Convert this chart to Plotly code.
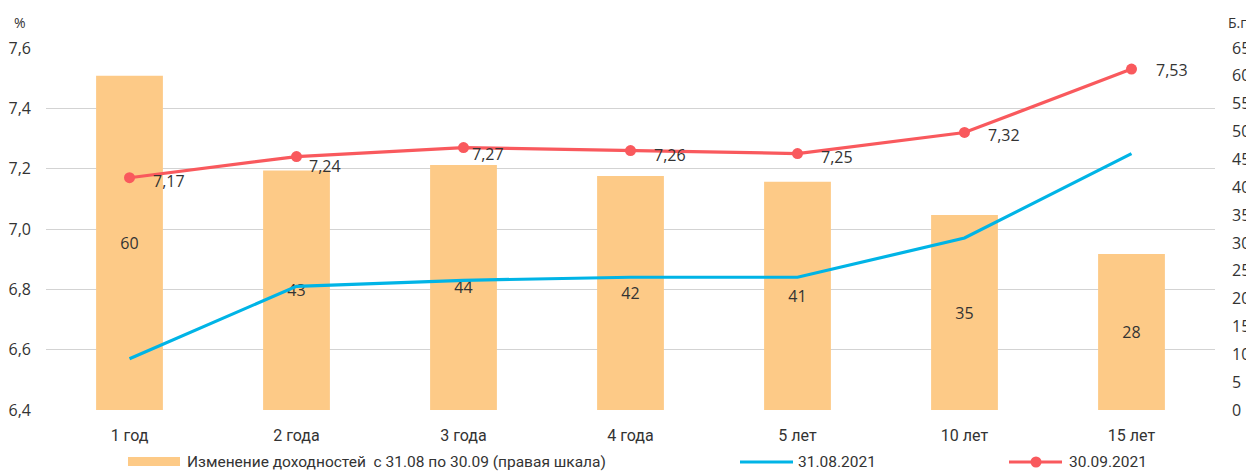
import plotly.graph_objects as go

# Terms and yields
categories = ["1 год", "2 года", "3 года", "4 года", "5 лет", "10 лет", "15 лет"]
change_bp = [60, 43, 44, 42, 41, 35, 28]
yield_0831 = [6.57, 6.81, 6.83, 6.84, 6.84, 6.97, 7.25]
yield_0930 = [7.17, 7.24, 7.27, 7.26, 7.25, 7.32, 7.53]

bar_name = "Изменение доходностей  с 31.08 по 30.09 (правая шкала)"
blue_name = "31.08.2021"
red_name = "30.09.2021"

BAR_C = "#FDCA87"
BLUE_C = "#00B4E6"
RED_C = "#F9595D"
TXT_C = "#333333"
GRID_C = "#D3D3D3"

W, H = 1246, 471
ML, MR, MT, MB = 46, 31, 48, 61
PW, PH = W - ML - MR, H - MT - MB


def px(x):
    return (x - ML) / PW


def py(y):
    return (H - MB - y) / PH


fig = go.Figure()

fig.add_trace(go.Bar(
    x=categories, y=change_bp, yaxis="y", width=0.4,
    marker=dict(color=BAR_C, line=dict(width=0)),
    text=[str(v) for v in change_bp], textposition="inside",
    insidetextanchor="middle",
    textfont=dict(family="Open Sans", size=16, color=TXT_C),
    showlegend=False, cliponaxis=False,
))
fig.add_trace(go.Scatter(
    x=categories, y=yield_0831, yaxis="y2", mode="lines",
    line=dict(color=BLUE_C, width=3.2), showlegend=False,
))
fig.add_trace(go.Scatter(
    x=categories, y=yield_0930, yaxis="y2", mode="lines+markers",
    line=dict(color=RED_C, width=3.2),
    marker=dict(color=RED_C, size=11), showlegend=False,
))

# value labels for the 30.09 curve, placed right of each point
nudge_x = [21, 10, 6, 21, 21, 21, 22]
nudge_y = [-3, -9, -6, -4, -3, -3, -1]
annotations = []
for c, v, dx, dy in zip(categories, yield_0930, nudge_x, nudge_y):
    annotations.append(dict(
        x=c, y=v, xref="x", yref="y2", text=f"{v:.2f}".replace(".", ","),
        showarrow=False, xanchor="left", yanchor="middle",
        xshift=dx, yshift=dy,
        font=dict(family="Open Sans", size=16, color=TXT_C),
    ))

# axis units
annotations.append(dict(x=px(20), y=py(22), xref="paper", yref="paper", text="%",
                        showarrow=False, xanchor="center", yanchor="middle",
                        font=dict(family="Open Sans", size=14, color=TXT_C)))
annotations.append(dict(x=px(1226), y=py(22), xref="paper", yref="paper", text="Б.п.",
                        showarrow=False, xanchor="left", yanchor="middle",
                        font=dict(family="Open Sans", size=14, color=TXT_C)))

# legend row
LEG_Y = 462
legend_font = dict(family="Roboto", size=15.5, color=TXT_C)
shapes = [
    dict(type="rect", xref="paper", yref="paper", x0=px(128), x1=px(180),
         y0=py(457), y1=py(466), fillcolor=BAR_C, line=dict(width=0)),
    dict(type="line", xref="paper", yref="paper", x0=px(740), x1=px(793),
         y0=py(LEG_Y), y1=py(LEG_Y), line=dict(color=BLUE_C, width=3.2)),
    dict(type="line", xref="paper", yref="paper", x0=px(1009), x1=px(1062),
         y0=py(LEG_Y), y1=py(LEG_Y), line=dict(color=RED_C, width=3.2)),
    dict(type="circle", xref="paper", yref="paper", x0=px(1030.5), x1=px(1041.5),
         y0=py(456.5), y1=py(467.5), fillcolor=RED_C, line=dict(width=0)),
]
for name, x0 in [(bar_name, 185), (blue_name, 796), (red_name, 1067)]:
    annotations.append(dict(x=px(x0), y=py(LEG_Y), xref="paper", yref="paper",
                            text=name, showarrow=False, xanchor="left",
                            yanchor="middle", font=legend_font))

fig.update_layout(
    width=W, height=H,
    margin=dict(l=ML, r=MR, t=MT, b=MB, pad=0, autoexpand=False),
    paper_bgcolor="white", plot_bgcolor="white",
    separators=", ",
    showlegend=False,
    bargap=0.6,
    xaxis=dict(
        type="category", showgrid=False, showline=False, zeroline=False,
        ticks="", ticklabelstandoff=14, automargin=False,
        tickfont=dict(family="Roboto", size=16, color=TXT_C),
    ),
    yaxis=dict(
        side="right", range=[0, 65], dtick=5, tick0=0, automargin=False,
        showgrid=False, zeroline=False, showline=False, ticks="",
        ticklabelstandoff=16,
        tickfont=dict(family="Open Sans", size=16, color=TXT_C),
    ),
    yaxis2=dict(
        overlaying="y", side="left", range=[6.4, 7.6], dtick=0.2, tick0=6.4,
        tickformat=".1f", showgrid=True, gridcolor=GRID_C, gridwidth=1.3,
        zeroline=False, showline=False, ticks="", ticklabelstandoff=14,
        automargin=False,
        tickfont=dict(family="Open Sans", size=16, color=TXT_C),
    ),
    shapes=shapes,
    annotations=annotations,
)

fig.write_html("out.html")
